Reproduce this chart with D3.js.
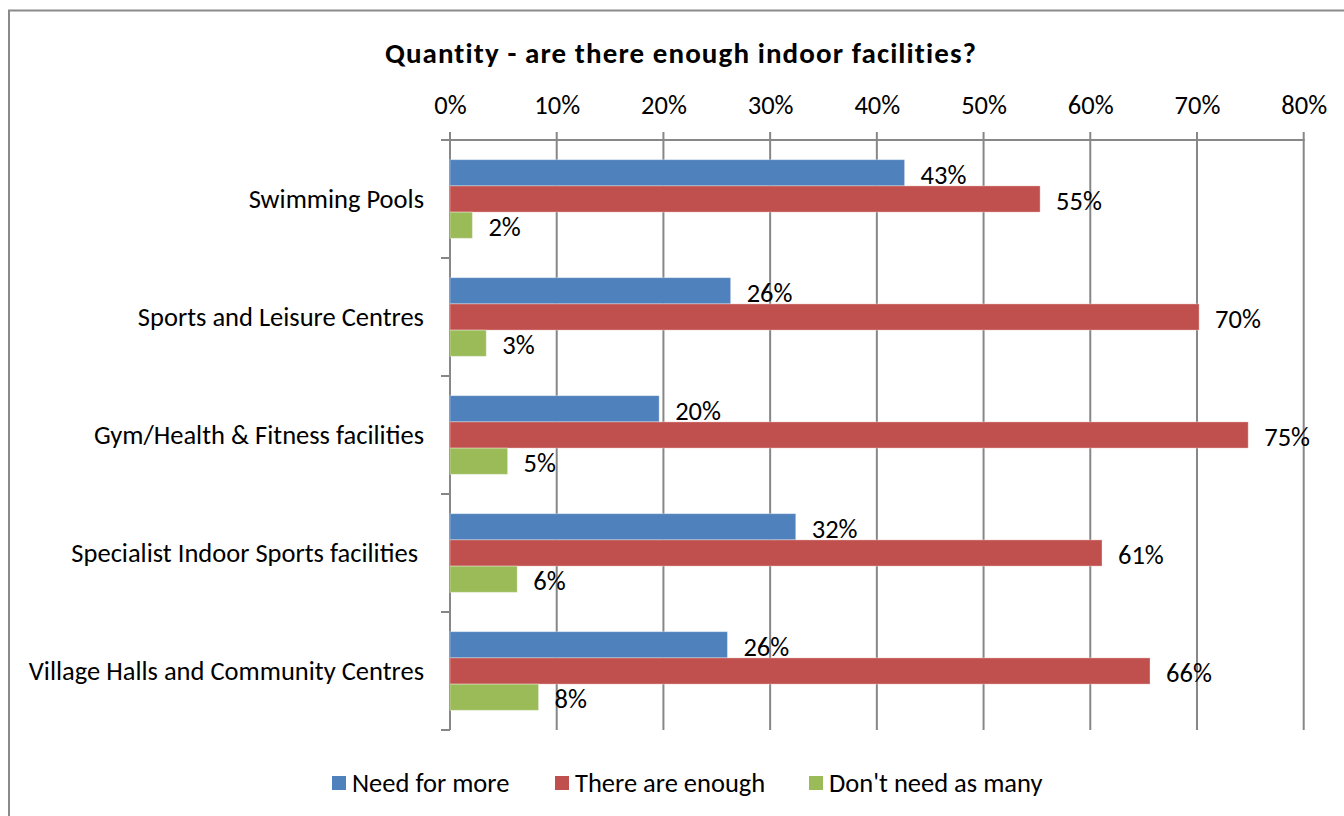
<!DOCTYPE html>
<html>
<head>
<meta charset="utf-8">
<script src="https://cdn.jsdelivr.net/npm/d3@7"></script>
<style>
  html, body { margin: 0; padding: 0; background: #fff; }
  svg { display: block; }
  text { font-family: Carlito, Calibri, Lato, "Open Sans", sans-serif; fill: #000; }
</style>
</head>
<body>
<svg id="chart" width="1344" height="816"></svg>
<script>
// Survey results: share of respondents per answer, by facility type
const categories = [
  "Swimming Pools",
  "Sports and Leisure Centres",
  "Gym/Health & Fitness facilities",
  "Specialist Indoor Sports facilities ",
  "Village Halls and Community Centres"
];
const seriesNames = ["Need for more", "There are enough", "Don't need as many"];
const needForMore   = [0.426, 0.263, 0.196, 0.324, 0.260];
const thereAreEnough = [0.553, 0.702, 0.748, 0.611, 0.656];
const dontNeedAsMany = [0.021, 0.034, 0.054, 0.063, 0.083];
const xTicks = [0, 0.1, 0.2, 0.3, 0.4, 0.5, 0.6, 0.7, 0.8];
const colors = ["#4F81BD", "#C0504D", "#9BBB59"];

const seriesValues = [needForMore, thereAreEnough, dontNeedAsMany];
const rows = categories.map((c, i) => ({
  category: c,
  values: seriesNames.map((s, j) => ({ series: s, idx: j, value: seriesValues[j][i] }))
}));

const svg = d3.select("#chart");
const fmt = d3.format(".0%");
const FS = 26.5;

const plotLeft = 450, plotRight = 1303.7, plotTop = 140, plotBottom = 730;

// outer frame
svg.append("path")
  .attr("d", `M9,816 L9,10.5 L1344,10.5`)
  .attr("fill", "none").attr("stroke", "#8a8a8a").attr("stroke-width", 2);

// title
svg.append("text")
  .attr("x", 681).attr("y", 53)
  .attr("text-anchor", "middle").attr("dominant-baseline", "central")
  .style("font-weight", "bold").style("font-size", "29px")
  .style("letter-spacing", "1.1px")
  .text("Quantity - are there enough indoor facilities?");

const x = d3.scaleLinear().domain([0, 0.8]).range([plotLeft, plotRight]);
const y = d3.scaleBand().domain(categories).range([plotTop, plotBottom]).paddingInner(0).paddingOuter(0);
const ySub = d3.scaleBand().domain(d3.range(seriesNames.length))
  .range([0, y.bandwidth()]).paddingInner(0).paddingOuter(0.75);

const gridColor = "#878787";

// vertical gridlines with tick stubs above the axis
svg.append("g").selectAll("line").data(xTicks).join("line")
  .attr("x1", d => x(d)).attr("x2", d => x(d))
  .attr("y1", plotTop - 8).attr("y2", plotBottom)
  .attr("stroke", gridColor).attr("stroke-width", 2);

// top value axis
const xAxis = svg.append("g").attr("transform", `translate(0,${plotTop})`)
  .call(d3.axisTop(x).tickValues(xTicks).tickFormat(fmt).tickSize(0).tickPadding(0));
xAxis.select(".domain").remove();
xAxis.selectAll("text")
  .attr("y", -35).attr("dy", null)
  .attr("dominant-baseline", "central")
  .style("font-size", FS + "px");
xAxis.attr("font-family", null).attr("font-size", null);
svg.append("line")
  .attr("x1", plotLeft - 9).attr("x2", plotRight + 1)
  .attr("y1", plotTop).attr("y2", plotTop)
  .attr("stroke", gridColor).attr("stroke-width", 2);

// category axis: vertical line with stubs at band boundaries
const boundaries = categories.map(c => y(c)).concat([plotBottom]);
svg.append("line")
  .attr("x1", plotLeft).attr("x2", plotLeft).attr("y1", plotTop).attr("y2", plotBottom)
  .attr("stroke", gridColor).attr("stroke-width", 2);
svg.append("g").selectAll("line").data(boundaries).join("line")
  .attr("x1", plotLeft - 9).attr("x2", plotLeft)
  .attr("y1", d => d).attr("y2", d => d)
  .attr("stroke", gridColor).attr("stroke-width", 2);

svg.append("g").selectAll("text").data(categories).join("text")
  .attr("x", plotLeft - 26)
  .attr("y", d => y(d) + y.bandwidth() / 2)
  .attr("text-anchor", "end").attr("dominant-baseline", "central")
  .style("font-size", FS + "px")
  .style("white-space", "pre")
  .text(d => d);

// bars
const groups = svg.append("g").selectAll("g").data(rows).join("g")
  .attr("transform", d => `translate(0,${y(d.category)})`);

groups.selectAll("rect").data(d => d.values).join("rect")
  .attr("x", x(0))
  .attr("y", d => ySub(d.idx))
  .attr("width", d => x(d.value) - x(0))
  .attr("height", ySub.bandwidth())
  .attr("fill", d => colors[d.idx])
  .attr("stroke", "rgba(255,255,255,0.35)").attr("stroke-width", 1);

// value labels
groups.selectAll("text").data(d => d.values).join("text")
  .attr("x", d => x(d.value) + 16)
  .attr("y", d => ySub(d.idx) + ySub.bandwidth() / 2 + 2)
  .attr("dominant-baseline", "central")
  .style("font-size", FS + "px")
  .text(d => fmt(d.value));

// legend
const legendX = [332, 555, 809];
const legend = svg.append("g").selectAll("g").data(seriesNames).join("g")
  .attr("transform", (d, i) => `translate(${legendX[i]},783)`);
legend.append("rect")
  .attr("x", 0).attr("y", -7).attr("width", 14).attr("height", 14)
  .attr("fill", (d, i) => colors[i]);
legend.append("text")
  .attr("x", 20).attr("y", 0)
  .attr("dominant-baseline", "central")
  .style("font-size", FS + "px")
  .text(d => d);
</script>
</body>
</html>
